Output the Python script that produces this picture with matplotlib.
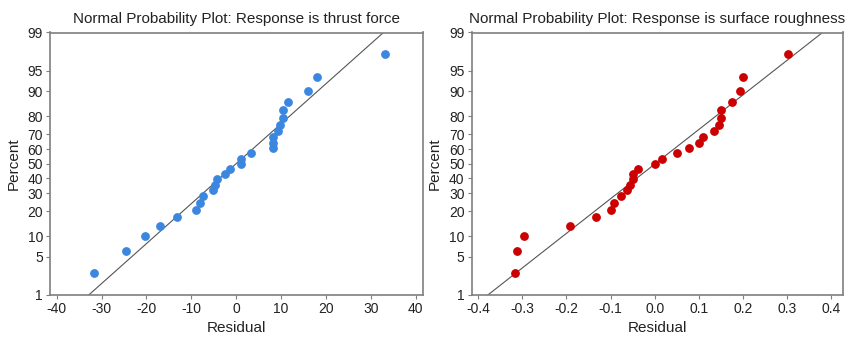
import math
import numpy as np
import matplotlib
matplotlib.use("Agg")
import matplotlib.pyplot as plt

# ---------------- data ----------------
percent = [2.6, 6.2, 9.9, 13.5, 17.2, 20.8, 24.5, 28.1, 31.8, 35.4, 39.1, 42.7, 46.4,
           50.0, 53.6, 57.3, 61.0, 64.6, 68.3, 71.9, 75.6, 79.2, 82.9, 86.5, 90.2, 93.8, 97.4]

thrust_resid = [-31.6, -24.6, -20.4, -17.0, -13.3, -9.0, -8.0, -7.3, -5.1, -4.8, -4.2, -2.4, -1.3,
                0.97, 1.04, 3.2, 8.1, 8.1, 8.1, 9.2, 9.7, 10.5, 10.5, 11.6, 15.9, 18.0, 33.2]

rough_resid = [-0.316, -0.311, -0.297, -0.192, -0.133, -0.100, -0.092, -0.0765, -0.0635, -0.057,
               -0.0497, -0.0497, -0.039, 0.001, 0.017, 0.050, 0.077, 0.101, 0.109, 0.133, 0.146,
               0.149, 0.149, 0.175, 0.192, 0.200, 0.301]

y_ticks = [1, 5, 10, 20, 30, 40, 50, 60, 70, 80, 90, 95, 99]
thrust_xticks = [-40, -30, -20, -10, 0, 10, 20, 30, 40]
rough_xticks = [-0.4, -0.3, -0.2, -0.1, 0.0, 0.1, 0.2, 0.3, 0.4]

titles = ["Normal Probability Plot: Response is thrust force",
          "Normal Probability Plot: Response is surface roughness"]


# ---------------- normal probability scale ----------------
def _ppf01(p):
    p = np.clip(np.asarray(p, dtype=float), 1e-9, 1 - 1e-9)
    a = [-3.969683028665376e+01, 2.209460984245205e+02, -2.759285104469687e+02,
         1.383577518672690e+02, -3.066479806614716e+01, 2.506628277459239e+00]
    b = [-5.447609879822406e+01, 1.615858368580409e+02, -1.556989798598866e+02,
         6.680131188771972e+01, -1.328068155288572e+01]
    c = [-7.784894002430293e-03, -3.223964580411365e-01, -2.400758277161838e+00,
         -2.549732539343734e+00, 4.374664141464968e+00, 2.938163982698783e+00]
    d = [7.784695709041462e-03, 3.224671290700398e-01, 2.445134137142996e+00,
         3.754408661907416e+00]
    plow = 0.02425
    out = np.empty_like(p)
    lo = p < plow
    hi = p > 1 - plow
    mid = ~(lo | hi)
    q = np.sqrt(-2 * np.log(p[lo]))
    out[lo] = (((((c[0]*q+c[1])*q+c[2])*q+c[3])*q+c[4])*q+c[5]) / \
              ((((d[0]*q+d[1])*q+d[2])*q+d[3])*q+1)
    q = p[mid] - 0.5
    r = q * q
    out[mid] = (((((a[0]*r+a[1])*r+a[2])*r+a[3])*r+a[4])*r+a[5])*q / \
               (((((b[0]*r+b[1])*r+b[2])*r+b[3])*r+b[4])*r+1)
    q = np.sqrt(-2 * np.log(1 - p[hi]))
    out[hi] = -(((((c[0]*q+c[1])*q+c[2])*q+c[3])*q+c[4])*q+c[5]) / \
               ((((d[0]*q+d[1])*q+d[2])*q+d[3])*q+1)
    return out


def fwd(pct):
    return _ppf01(np.asarray(pct, dtype=float) / 100.0)


_erf = np.vectorize(math.erf)


def inv(z):
    z = np.asarray(z, dtype=float)
    return 50.0 * (1 + _erf(z / math.sqrt(2)))


plt.rcParams['font.family'] = ['Liberation Sans', 'DejaVu Sans']

fig = plt.figure(figsize=(8.55, 3.39), dpi=100)
W, H = 855, 339
axes_px = [(50, 32.5, 422.5, 295), (471.5, 32.5, 842.5, 295)]

series = [(thrust_resid, thrust_xticks, "#3b87e0", (-41.5, 41.5), lambda v: f"{v:.0f}"),
          (rough_resid, rough_xticks, "#cc0000", (-0.415, 0.425), lambda v: f"{v:.1f}")]

frame_col = "#7f7f7f"
for (x0, y0, x1, y1), (resid, xt, col, xl, fmt), title in zip(axes_px, series, titles):
    ax = fig.add_axes([x0 / W, 1 - y1 / H, (x1 - x0) / W, (y1 - y0) / H])
    ax.set_yscale('function', functions=(fwd, inv))
    r = np.asarray(resid)
    mu, sd = r.mean(), r.std(ddof=1)
    pl = np.array([0.01, 99.99])
    ax.plot(mu + sd * fwd(pl), pl, color="#555555", lw=0.8, zorder=2)
    ax.plot(resid, percent, 'o', color=col, ms=5.3, mec=col, zorder=3)
    ax.set_ylim(1, 99)
    ax.set_xlim(*xl)
    ax.set_yticks(y_ticks)
    ax.set_yticklabels([str(t) for t in y_ticks])
    ax.yaxis.set_minor_locator(matplotlib.ticker.NullLocator())
    ax.set_xticks(xt)
    ax.set_xticklabels([fmt(v) for v in xt])
    for s in ax.spines.values():
        s.set_color(frame_col)
        s.set_linewidth(1.2)
    ax.tick_params(axis='both', direction='out', length=3, width=0.8, color=frame_col,
                   labelsize=10, pad=2, labelcolor="#222222")
    ax.set_xlabel("Residual", fontsize=11, labelpad=4, color="#222222")
    ax.set_ylabel("Percent", fontsize=11, labelpad=5, color="#222222")
    ax.set_title(title, fontsize=11, pad=7, color="#222222")

fig.savefig("out.png", dpi=100)
